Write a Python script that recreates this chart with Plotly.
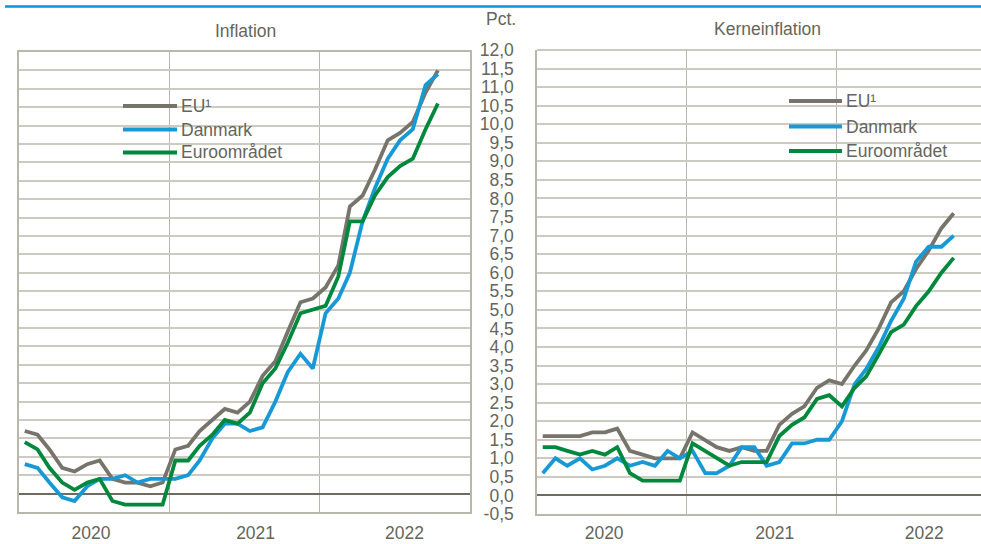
import pandas as pd
import plotly.graph_objects as go

# ---------------- data ----------------
MONTHS = pd.date_range("2020-01-01", periods=34, freq="MS") + pd.Timedelta(days=14)

SERIES_NAMES = ["EU¹", "Danmark", "Euroområdet"]

EU_INFL = [1.7, 1.6, 1.2, 0.7, 0.6, 0.8, 0.9, 0.4, 0.3, 0.3, 0.2, 0.3,
           1.2, 1.3, 1.7, 2.0, 2.3, 2.2, 2.5, 3.2, 3.6, 4.4, 5.2, 5.3,
           5.6, 6.2, 7.8, 8.1, 8.8, 9.6, 9.8, 10.1, 10.9, 11.5]
DK_INFL = [0.8, 0.7, 0.3, -0.1, -0.2, 0.2, 0.4, 0.4, 0.5, 0.3, 0.4, 0.4,
           0.4, 0.5, 0.9, 1.5, 1.9, 1.9, 1.7, 1.8, 2.5, 3.3, 3.8, 3.4,
           4.9, 5.3, 6.0, 7.4, 8.3, 9.1, 9.6, 9.9, 11.1, 11.4]
EA_INFL = [1.4, 1.2, 0.7, 0.3, 0.1, 0.3, 0.4, -0.2, -0.3, -0.3, -0.3, -0.3,
           0.9, 0.9, 1.3, 1.6, 2.0, 1.9, 2.2, 3.0, 3.4, 4.1, 4.9, 5.0,
           5.1, 5.9, 7.4, 7.4, 8.1, 8.6, 8.9, 9.1, 9.9, 10.6]

EU_CORE = [1.6, 1.6, 1.6, 1.6, 1.7, 1.7, 1.8, 1.2, 1.1, 1.0, 1.0, 1.0,
           1.7, 1.5, 1.3, 1.2, 1.3, 1.2, 1.2, 1.9, 2.2, 2.4, 2.9, 3.1,
           3.0, 3.5, 3.9, 4.5, 5.2, 5.5, 6.1, 6.6, 7.2, 7.6]
DK_CORE = [0.6, 1.0, 0.8, 1.0, 0.7, 0.8, 1.0, 0.8, 0.9, 0.8, 1.2, 1.0,
           1.2, 0.6, 0.6, 0.8, 1.3, 1.3, 0.8, 0.9, 1.4, 1.4, 1.5, 1.5,
           2.0, 3.0, 3.4, 4.0, 4.7, 5.3, 6.3, 6.7, 6.7, 7.0]
EA_CORE = [1.3, 1.3, 1.2, 1.1, 1.2, 1.1, 1.3, 0.6, 0.4, 0.4, 0.4, 0.4,
           1.4, 1.2, 1.0, 0.8, 0.9, 0.9, 0.9, 1.6, 1.9, 2.1, 2.6, 2.7,
           2.4, 2.9, 3.2, 3.8, 4.4, 4.6, 5.1, 5.5, 6.0, 6.4]

YEAR_LABELS = ["2020", "2021", "2022"]
Y_TICKS = [-0.5, 0.0, 0.5, 1.0, 1.5, 2.0, 2.5, 3.0, 3.5, 4.0, 4.5, 5.0, 5.5,
           6.0, 6.5, 7.0, 7.5, 8.0, 8.5, 9.0, 9.5, 10.0, 10.5, 11.0, 11.5, 12.0]
Y_TICK_LABELS = ["-0,5", "0,0", "0,5", "1,0", "1,5", "2,0", "2,5", "3,0", "3,5",
                 "4,0", "4,5", "5,0", "5,5", "6,0", "6,5", "7,0", "7,5", "8,0",
                 "8,5", "9,0", "9,5", "10,0", "10,5", "11,0", "11,5", "12,0"]
PANEL_TITLES = ["Inflation", "Kerneinflation"]
Y_UNIT = "Pct."

# ---------------- styling ----------------
W, H = 981, 544
COLORS = ["#77756b", "#1799d6", "#00883d"]
TEXT = "#66655a"
GRID = "#cdcbc1"
AXIS = "#b9b7ac"
ZERO = "#6e6c61"
FONT = "Liberation Sans, Arial, sans-serif"
FS = 17.5


def px(x):
    return x / W


def py(y):
    return 1 - y / H


fig = go.Figure()

panels = [
    dict(xa="x", ya="y", data=[EU_INFL, DK_INFL, EA_INFL]),
    dict(xa="x2", ya="y2", data=[EU_CORE, DK_CORE, EA_CORE]),
]
for p in panels:
    for name, vals, col in zip(SERIES_NAMES, p["data"], COLORS):
        fig.add_trace(go.Scatter(
            x=MONTHS, y=vals, mode="lines", name=name,
            line=dict(color=col, width=3.8), xaxis=p["xa"], yaxis=p["ya"],
            showlegend=False, hoverinfo="skip"))

# year label positions (slightly offset as in the reference)
left_lbl = [pd.Timestamp("2020-01-01") + pd.Timedelta(days=d) for d in (175, 575, 937)]
right_lbl = [pd.Timestamp("2020-01-01") + pd.Timedelta(days=d) for d in (164, 581, 946)]

xcommon = dict(
    type="date", showgrid=False, zeroline=False, automargin=False,
    tickmode="array", ticktext=YEAR_LABELS, ticks="",
    tickfont=dict(family=FONT, size=FS, color=TEXT),
    minor=dict(showgrid=True, gridcolor=AXIS, gridwidth=1.2,
               tick0="2020-01-01", dtick="M12", ticks=""),
    showline=True, linecolor=AXIS, linewidth=1.5, mirror=True,
)
ycommon = dict(
    range=[-0.5, 12.0], tickmode="array", tickvals=Y_TICKS, automargin=False,
    ticktext=Y_TICK_LABELS, showgrid=True, gridcolor=GRID, gridwidth=1.5,
    zeroline=True, zerolinecolor=ZERO, zerolinewidth=1.5,
    showline=True, linecolor=AXIS, linewidth=1.5, ticks="",
    tickfont=dict(family=FONT, size=FS, color=TEXT),
)

# right panel extends to the canvas edge (range ends slightly before year end)
right_end = pd.Timestamp("2020-01-01") + pd.Timedelta(days=(981 - 537) / 12.46 * 30.44)

fig.update_layout(
    template="none",
    width=W, height=H,
    margin=dict(l=0, r=0, t=0, b=0, pad=0, autoexpand=False),
    paper_bgcolor="white", plot_bgcolor="white",
    showlegend=False,
    xaxis=dict(xcommon, domain=[px(19), px(470)],
               range=["2020-01-01", "2023-01-01"], tickvals=left_lbl,
               anchor="y", ticklabelstandoff=4),
    yaxis=dict(ycommon, domain=[py(512), py(52)], showticklabels=False,
               mirror=True, anchor="x"),
    xaxis2=dict(xcommon, domain=[px(537), 1.0],
                range=["2020-01-01", right_end], tickvals=right_lbl,
                anchor="y2", mirror=False, ticklabelstandoff=2),
    yaxis2=dict(ycommon, domain=[py(514), py(50)], showticklabels=True,
                anchor="x2", ticklabelstandoff=18),
)

shapes = []
annotations = []
# top blue rule
shapes.append(dict(type="line", xref="paper", yref="paper",
                   x0=px(5), x1=1.0, y0=py(6.5), y1=py(6.5),
                   line=dict(color="#0b94d3", width=2.5)))
# top border for right panel
shapes.append(dict(type="line", xref="paper", yref="paper",
                   x0=px(537), x1=1.0, y0=py(50), y1=py(50),
                   line=dict(color=AXIS, width=1.5)))

# panel titles
annotations.append(dict(text=PANEL_TITLES[0], x=px(246), y=py(31), xref="paper",
                        yref="paper", showarrow=False, xanchor="center",
                        yanchor="middle", font=dict(family=FONT, size=FS, color=TEXT)))
annotations.append(dict(text=PANEL_TITLES[1], x=px(767), y=py(29), xref="paper",
                        yref="paper", showarrow=False, xanchor="center",
                        yanchor="middle", font=dict(family=FONT, size=FS, color=TEXT)))
annotations.append(dict(text=Y_UNIT, x=px(518), y=py(19), xref="paper",
                        yref="paper", showarrow=False, xanchor="right",
                        yanchor="middle", font=dict(family=FONT, size=FS, color=TEXT)))

# legends
legend_layouts = [
    dict(x0=123, x1=177, tx=179, ys=[106, 129.5, 152.5]),
    dict(x0=789, x1=842, tx=844, ys=[101, 126.5, 151]),
]
for lg in legend_layouts:
    for name, col, yy in zip(SERIES_NAMES, COLORS, lg["ys"]):
        shapes.append(dict(type="line", xref="paper", yref="paper",
                           x0=px(lg["x0"]), x1=px(lg["x1"]), y0=py(yy), y1=py(yy),
                           line=dict(color=col, width=3.8)))
        annotations.append(dict(text=name, x=px(lg["tx"]), y=py(yy), xref="paper",
                                yref="paper", showarrow=False, xanchor="left",
                                yanchor="middle",
                                font=dict(family=FONT, size=FS, color=TEXT)))

fig.update_layout(shapes=shapes, annotations=annotations)

fig.write_html(
    "out.html",
    config={"displayModeBar": False},
    post_script="document.body.style.margin='0';document.body.style.overflow='hidden';",
)
